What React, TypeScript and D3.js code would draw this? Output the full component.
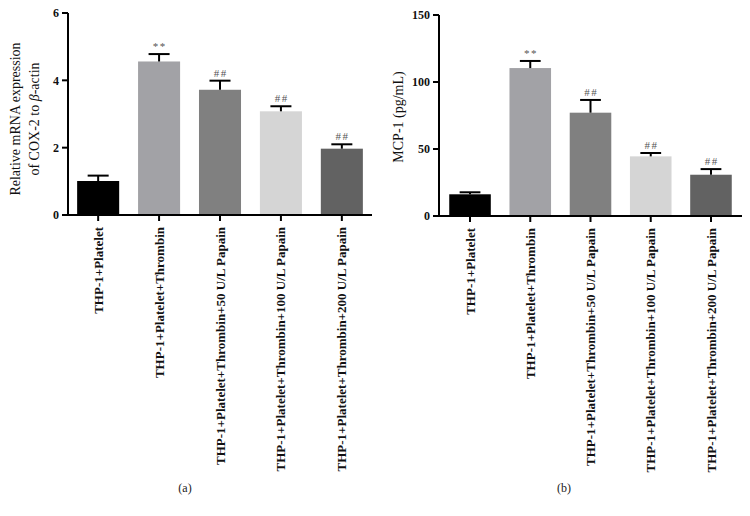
import React from "react";
import * as d3 from "d3";

const categories = [
  "THP-1+Platelet",
  "THP-1+Platelet+Thrombin",
  "THP-1+Platelet+Thrombin+50 U/L Papain",
  "THP-1+Platelet+Thrombin+100 U/L Papain",
  "THP-1+Platelet+Thrombin+200 U/L Papain",
];
const barColors = ["#000000", "#a2a2a6", "#808080", "#d5d5d5", "#626262"];
const marks = ["", "**", "##", "##", "##"];

const cox2Values = [1.01, 4.56, 3.72, 3.08, 1.97];
const cox2Errors = [0.16, 0.22, 0.27, 0.15, 0.13];
const cox2Ticks = [0, 2, 4, 6];

const mcpValues = [16.2, 110.4, 77.1, 44.5, 30.8];
const mcpErrors = [1.5, 5.3, 9.5, 2.5, 4.2];
const mcpTicks = [0, 50, 100, 150];

const SERIF = "'Liberation Serif', 'Times New Roman', serif";

type PanelProps = {
  values: number[];
  errors: number[];
  ticks: number[];
  yMax: number;
  x0: number;
  x1: number;
  y0: number;
  y1: number;
  padOuter: number;
  caption: string;
  captionX: number;
  label: React.ReactNode;
};

function Panel(p: PanelProps) {
  const x = d3
    .scaleBand<string>()
    .domain(categories)
    .range([p.x0, p.x1])
    .paddingInner(0.31)
    .paddingOuter(p.padOuter);
  const y = d3.scaleLinear().domain([0, p.yMax]).range([p.y0, p.y1]);
  const bw = x.bandwidth();
  return (
    <g>
      {categories.map((c, i) => {
        const bx = x(c)!;
        const cx = bx + bw / 2;
        const top = y(p.values[i]);
        const et = y(p.values[i] + p.errors[i]);
        return (
          <g key={c}>
            <rect x={bx} y={top} width={bw} height={p.y0 - top} fill={barColors[i]} />
            <line x1={cx} x2={cx} y1={top} y2={et} stroke="#000" strokeWidth={2} />
            <line x1={cx - bw / 4} x2={cx + bw / 4} y1={et} y2={et} stroke="#000" strokeWidth={2} />
            {marks[i] && (
              <text
                x={cx + 0.75}
                y={et - 4}
                textAnchor="middle"
                fontSize={11}
                letterSpacing={1.5}
                fill="#555"
                fontFamily={SERIF}
              >
                {marks[i]}
              </text>
            )}
            <line x1={cx} x2={cx} y1={p.y0} y2={p.y0 + 6} stroke="#000" strokeWidth={2} />
            <text
              transform={`translate(${cx},${p.y0 + 12}) rotate(-90)`}
              textAnchor="end"
              dy="0.35em"
              fontSize={13}
              fontWeight="bold"
              fill="#111"
              fontFamily={SERIF}
            >
              {c}
            </text>
          </g>
        );
      })}
      <line x1={p.x0} x2={p.x0} y1={p.y0 + 1} y2={p.y1} stroke="#000" strokeWidth={2} />
      <line x1={p.x0 - 1} x2={p.x1} y1={p.y0} y2={p.y0} stroke="#000" strokeWidth={2} />
      {p.ticks.map((t) => (
        <g key={t}>
          <line x1={p.x0 - 6} x2={p.x0} y1={y(t)} y2={y(t)} stroke="#000" strokeWidth={2} />
          <text
            x={p.x0 - 9}
            y={y(t)}
            dy="0.35em"
            textAnchor="end"
            fontSize={12}
            fontWeight="bold"
            fill="#111"
            fontFamily={SERIF}
          >
            {t}
          </text>
        </g>
      ))}
      {p.label}
      <text x={p.captionX} y={492} textAnchor="middle" fontSize={12} fill="#222" fontFamily={SERIF}>
        {p.caption}
      </text>
    </g>
  );
}

export default function App() {
  return (
    <svg width={750} height={516} style={{ position: "absolute", left: 0, top: 0, background: "#fff" }}>
      <Panel
        values={cox2Values}
        errors={cox2Errors}
        ticks={cox2Ticks}
        yMax={6}
        x0={68}
        x1={372}
        y0={215}
        y1={13}
        padOuter={0.15}
        caption="(a)"
        captionX={185}
        label={
          <text
            transform="translate(0,119) rotate(-90)"
            textAnchor="middle"
            fontSize={14}
            fill="#111"
            fontFamily={SERIF}
          >
            <tspan x={0} y={20}>Relative mRNA expression</tspan>
            <tspan x={0} y={39}>
              of COX-2 to <tspan fontStyle="italic">β</tspan>-actin
            </tspan>
          </text>
        }
      />
      <Panel
        values={mcpValues}
        errors={mcpErrors}
        ticks={mcpTicks}
        yMax={150}
        x0={439}
        x1={742}
        y0={216}
        y1={15}
        padOuter={0.17}
        caption="(b)"
        captionX={564}
        label={
          <text
            transform="translate(398,117) rotate(-90)"
            dy="0.35em"
            textAnchor="middle"
            fontSize={14}
            fill="#111"
            fontFamily={SERIF}
          >
            MCP-1 (pg/mL)
          </text>
        }
      />
    </svg>
  );
}
